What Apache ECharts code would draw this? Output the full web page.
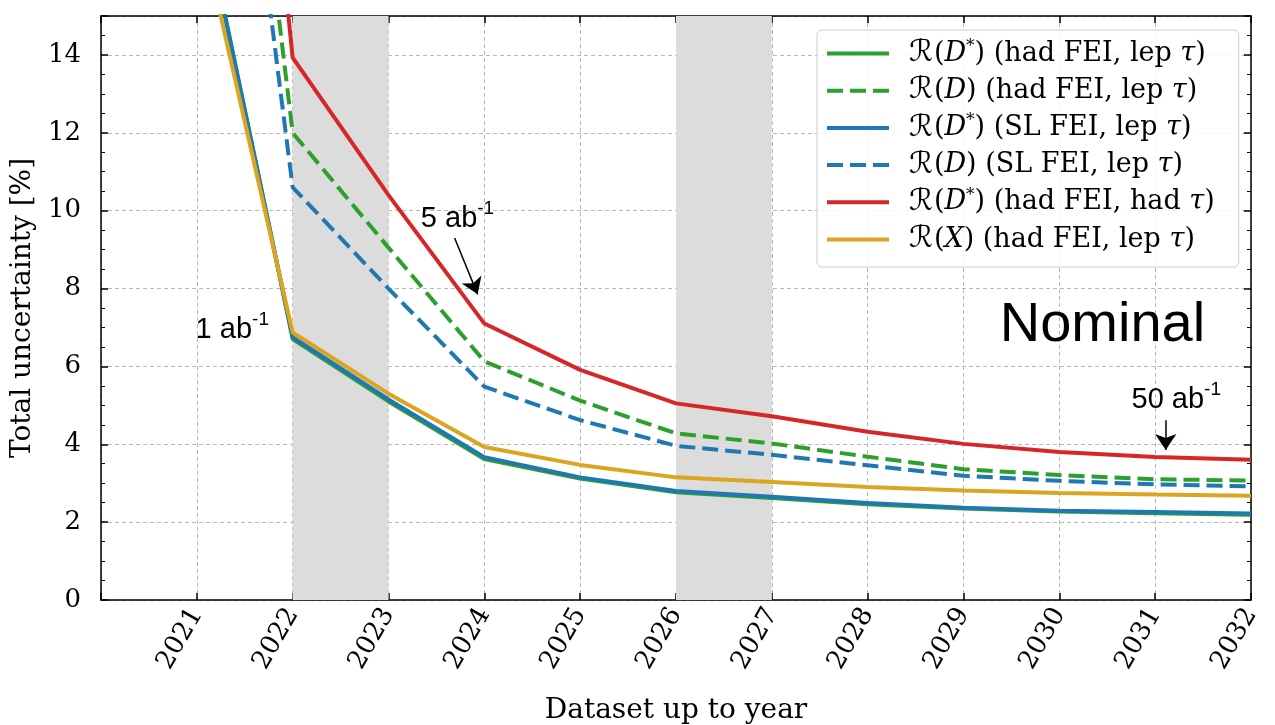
<!DOCTYPE html>
<html>
<head>
<meta charset="utf-8">
<script src="https://cdn.jsdelivr.net/npm/echarts@6/dist/echarts.min.js"></script>
<style>html,body{margin:0;padding:0;background:#fff}#c{width:1275px;height:725px}</style>
</head>
<body>
<div id="c"></div>
<script>
const years = [2021, 2022, 2023, 2024, 2025, 2026, 2027, 2028, 2029, 2030, 2031, 2032];
const xTicks = [2021, 2022, 2023, 2024, 2025, 2026, 2027, 2028, 2029, 2030, 2031, 2032];
const yTicks = [0, 2, 4, 6, 8, 10, 12, 14];
const rDstarHadLep = [18.5, 6.70, 5.10, 3.62, 3.12, 2.77, 2.62, 2.46, 2.35, 2.27, 2.23, 2.19];
const rDHadLep     = [32.5, 12.0, 9.05, 6.13, 5.12, 4.28, 4.02, 3.68, 3.36, 3.21, 3.10, 3.07];
const rDstarSLLep  = [18.4, 6.75, 5.15, 3.67, 3.15, 2.80, 2.65, 2.49, 2.37, 2.29, 2.26, 2.22];
const rDSLLep      = [30.0, 10.6, 8.00, 5.48, 4.62, 3.96, 3.73, 3.46, 3.19, 3.06, 2.97, 2.92];
const rDstarHadHad = [38.0, 13.93, 10.4, 7.10, 5.91, 5.05, 4.72, 4.32, 4.01, 3.80, 3.67, 3.60];
const rXHadLep     = [17.7, 6.87, 5.30, 3.93, 3.47, 3.15, 3.03, 2.90, 2.81, 2.75, 2.71, 2.68];
const seriesNames = ['R(D*) (had FEI, lep tau)', 'R(D) (had FEI, lep tau)', 'R(D*) (SL FEI, lep tau)', 'R(D) (SL FEI, lep tau)', 'R(D*) (had FEI, had tau)', 'R(X) (had FEI, lep tau)'];
const legendRich = [
  '{r|ℛ}{n|(}{i|D}{s|*}{n|) (had FEI, lep }{i|τ}{n|)}',
  '{r|ℛ}{n|(}{i|D}{n|) (had FEI, lep }{i|τ}{n|)}',
  '{r|ℛ}{n|(}{i|D}{s|*}{n|) (SL FEI, lep }{i|τ}{n|)}',
  '{r|ℛ}{n|(}{i|D}{n|) (SL FEI, lep }{i|τ}{n|)}',
  '{r|ℛ}{n|(}{i|D}{s|*}{n|) (had FEI, had }{i|τ}{n|)}',
  '{r|ℛ}{n|(}{i|X}{n|) (had FEI, lep }{i|τ}{n|)}'
];
const shadedYears = [[2022, 2023], [2026, 2027]];

const colors = ['#2ca02c', '#2ca02c', '#1f77b4', '#1f77b4', '#d62728', '#daa520'];
const dashed = [false, true, false, true, false, false];
const values = [rDstarHadLep, rDHadLep, rDstarSLLep, rDSLLep, rDstarHadHad, rXHadLep];

const serif = 'DejaVu Serif';
const sans = 'Liberation Sans';

const chart = echarts.init(document.getElementById('c'), null, {renderer: 'canvas'});

const series = values.map((v, k) => ({
  name: seriesNames[k],
  type: 'line',
  data: years.map((y, i) => [y, v[i]]),
  symbol: 'none',
  clip: true,
  z: 3 + k,
  itemStyle: {color: colors[k]},
  lineStyle: {color: colors[k], width: 4, type: dashed[k] ? [16, 7] : 'solid'}
}));

series[0].markArea = {
  silent: true,
  itemStyle: {color: '#dcdcdc'},
  data: shadedYears.map(s => [{xAxis: s[0]}, {xAxis: s[1]}])
};

const richAnn = {
  a: {fontFamily: sans, fontSize: 29, color: '#000', lineHeight: 34, verticalAlign: 'bottom'},
  s: {fontFamily: sans, fontSize: 19, color: '#000', lineHeight: 34, verticalAlign: 'top'}
};

series.push({
  name: 'annotations',
  type: 'line',
  data: [],
  z: 20,
  markPoint: {
    silent: true,
    symbol: 'circle',
    symbolSize: 0,
    data: [
      {coord: [2021.37, 7.01], label: {show: true, position: 'inside', formatter: '{a|1 ab}{s|-1}', rich: richAnn}},
      {coord: [2023.72, 9.85], label: {show: true, position: 'inside', formatter: '{a|5 ab}{s|-1}', rich: richAnn}},
      {coord: [2031.22, 5.2], label: {show: true, position: 'inside', formatter: '{a|50 ab}{s|-1}', rich: richAnn}},
      {coord: [2030.45, 7.06], label: {show: true, position: 'inside', formatter: 'Nominal', fontFamily: sans, fontSize: 56, color: '#000'}}
    ]
  },
  markLine: {
    silent: true,
    symbol: ['none', 'arrow'],
    symbolSize: 16,
    label: {show: false},
    itemStyle: {color: '#000'},
    lineStyle: {color: '#000', width: 1.5, type: 'solid'},
    data: [
      [{coord: [2023.69, 9.30]}, {coord: [2023.93, 7.85]}],
      [{coord: [2031.11, 4.62]}, {coord: [2031.11, 3.85]}]
    ]
  }
});

const axisLineStyle = {color: '#000', width: 1.5};
const tickStyle = {color: '#000', width: 1.5};

const option = {
  animation: false,
  backgroundColor: '#fff',
  grid: {left: 101, right: 24, top: 16, bottom: 125, containLabel: false, outerBoundsMode: 'none'},
  legend: {
    data: seriesNames,
    orient: 'vertical',
    left: 817,
    top: 30,
    itemWidth: 62,
    itemHeight: 14,
    itemGap: 6.2,
    padding: [8, 24, 12, 8],
    backgroundColor: 'rgba(255,255,255,0.85)',
    borderColor: '#cccccc',
    borderWidth: 1,
    borderRadius: 5,
    selectedMode: false,
    itemStyle: {opacity: 0},
    lineStyle: {width: 4},
    formatter: name => legendRich[seriesNames.indexOf(name)],
    textStyle: {
      fontFamily: serif, fontSize: 27, color: '#000', lineHeight: 31,
      rich: {
        r: {fontFamily: 'DejaVu Sans', fontSize: 30, color: '#000', lineHeight: 31, padding: [0, 1, 0, 15]},
        n: {fontFamily: serif, fontSize: 27, color: '#000', lineHeight: 31},
        i: {fontFamily: serif, fontStyle: 'italic', fontSize: 27, color: '#000', lineHeight: 31},
        s: {fontFamily: serif, fontSize: 17, color: '#000', lineHeight: 17, verticalAlign: 'top'}
      }
    }
  },
  xAxis: [{
    type: 'value',
    min: 2020, max: 2032, interval: 1,
    position: 'bottom',
    name: 'Dataset up to year',
    nameLocation: 'middle',
    nameGap: 97,
    nameTextStyle: {fontFamily: serif, fontSize: 28, color: '#000'},
    axisLine: {show: true, onZero: false, lineStyle: axisLineStyle},
    axisTick: {show: true, inside: true, length: 7, lineStyle: tickStyle},
    axisLabel: {
      rotate: 60, margin: 10, fontFamily: serif, fontSize: 26, color: '#000',
      formatter: v => (xTicks.indexOf(Math.round(v)) >= 0 ? String(Math.round(v)) : '')
    },
    splitLine: {show: true, lineStyle: {color: '#b8b8b8', type: [4, 3], width: 1}}
  }, {
    type: 'value',
    min: 2020, max: 2032, interval: 1,
    position: 'top',
    axisLine: {show: true, onZero: false, lineStyle: axisLineStyle},
    axisTick: {show: true, inside: true, length: 7, lineStyle: tickStyle},
    axisLabel: {show: false},
    splitLine: {show: false}
  }],
  yAxis: [{
    type: 'value',
    min: 0, max: 15, interval: 2,
    position: 'left',
    name: 'Total uncertainty [%]',
    nameLocation: 'middle',
    nameGap: 60,
    nameTextStyle: {fontFamily: serif, fontSize: 28, color: '#000'},
    axisLine: {show: true, onZero: false, lineStyle: axisLineStyle},
    axisTick: {show: true, inside: true, length: 7, lineStyle: tickStyle},
    minorTick: {show: true, splitNumber: 4, length: 4, lineStyle: {color: '#000', width: 1}},
    axisLabel: {
      margin: 20, fontFamily: serif, fontSize: 26, color: '#000',
      formatter: v => (yTicks.indexOf(v) >= 0 ? String(v) : '')
    },
    splitLine: {show: true, lineStyle: {color: '#b8b8b8', type: [4, 3], width: 1}}
  }, {
    type: 'value',
    min: 0, max: 15, interval: 2,
    position: 'right',
    axisLine: {show: true, onZero: false, lineStyle: axisLineStyle},
    axisTick: {show: true, inside: true, length: 7, lineStyle: tickStyle},
    minorTick: {show: true, splitNumber: 4, length: 4, lineStyle: {color: '#000', width: 1}},
    axisLabel: {show: false},
    splitLine: {show: false}
  }],
  series: series
};

chart.setOption(option);
</script>
</body>
</html>
